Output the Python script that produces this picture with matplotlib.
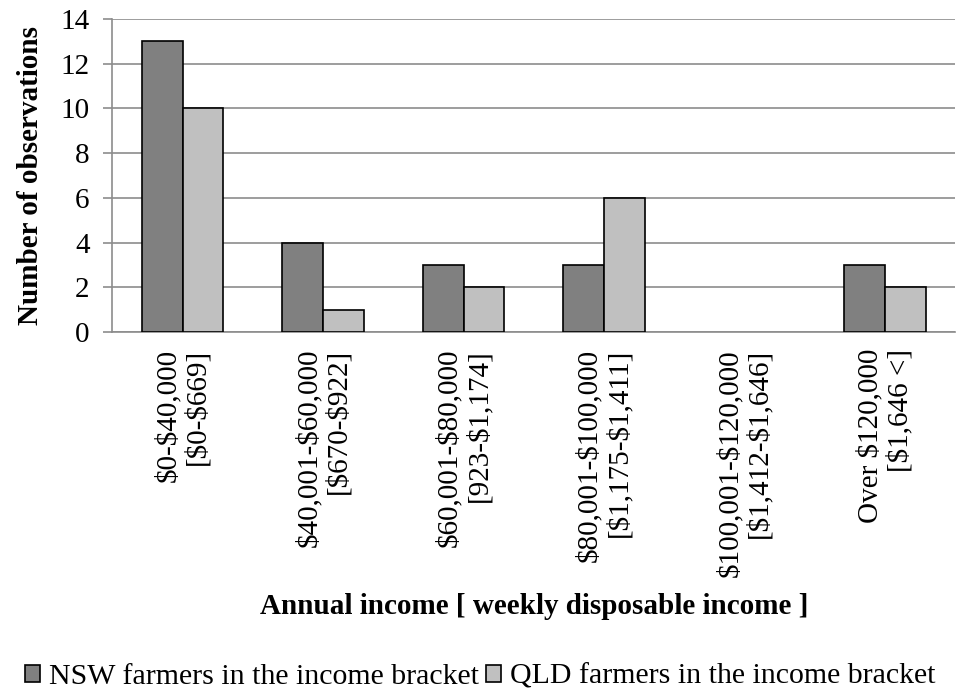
import matplotlib.pyplot as plt
import numpy as np

plt.rcParams['font.family'] = ['Liberation Serif', 'DejaVu Serif']
plt.rcParams['text.parse_math'] = False

categories = [
    "$0-$40,000\n[$0-$669]",
    "$40,001-$60,000\n[$670-$922]",
    "$60,001-$80,000\n[923-$1,174]",
    "$80,001-$100,000\n[$1,175-$1,411]",
    "$100,001-$120,000\n[$1,412-$1,646]",
    "Over $120,000\n[$1,646 <]",
]
nsw = [13, 4, 3, 3, 0, 3]
qld = [10, 1, 2, 6, 0, 2]

fig = plt.figure(figsize=(9.61, 6.95), dpi=100)
ax = fig.add_axes([0.117, 0.522, 0.877, 0.451])

x = np.arange(len(categories))
w = 0.29
ax.bar(x - w / 2, nsw, w, color="#808080",
       edgecolor=["black" if v > 0 else "none" for v in nsw], linewidth=1.2,
       label="NSW farmers in the income bracket", zorder=3)
ax.bar(x + w / 2, qld, w, color="#c0c0c0",
       edgecolor=["black" if v > 0 else "none" for v in qld], linewidth=1.2,
       label="QLD farmers in the income bracket", zorder=3)

ax.set_xlim(-0.5, len(categories) - 0.5)
ax.set_ylim(0, 14)
ax.set_yticks(range(0, 15, 2))
ax.yaxis.grid(True, color="#8c8c8c", linewidth=1.2, zorder=0)
ax.set_axisbelow(True)
for s in ["top", "right"]:
    ax.spines[s].set_visible(False)
ax.spines["left"].set_color("#8c8c8c")
ax.spines["bottom"].set_color("#8c8c8c")
ax.spines["left"].set_linewidth(1.2)
ax.spines["bottom"].set_linewidth(1.2)
ax.tick_params(axis="y", length=6.5, width=1.2, color="#8c8c8c", labelsize=21, pad=10)
ax.tick_params(axis="x", length=0, labelsize=21, pad=12)

ax.set_xticks(x)
ax.set_xticklabels(categories, rotation=90, va="top", ha="center",
                   multialignment="right", linespacing=1.15)

ax.set_ylabel("Number of observations", fontsize=21, fontweight="bold", labelpad=12)
ax.set_xlabel("Annual income [ weekly disposable income ]", fontsize=21,
              fontweight="bold", labelpad=12)

fig.legend(loc="center", bbox_to_anchor=(0.5, 0.026), ncol=2, frameon=False,
           fontsize=21.5, handlelength=0.5, handleheight=0.5, handletextpad=0.3,
           columnspacing=0.25, borderpad=0.1)

fig.savefig("out.png", dpi=100)
